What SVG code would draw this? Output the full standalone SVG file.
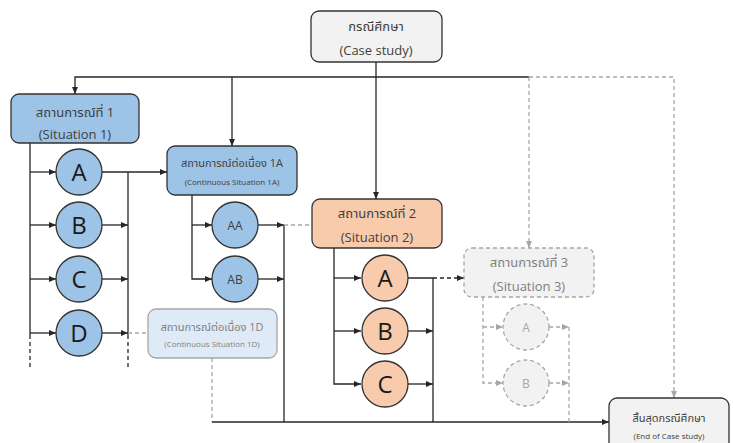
<svg xmlns="http://www.w3.org/2000/svg" width="733" height="443" viewBox="0 0 733 443">
<style>
text{font-family:"Open Sans","Noto Sans Thai","Noto Sans","Liberation Sans",sans-serif;font-weight:400;text-anchor:middle;fill:#404040}
.box{stroke:#333;stroke-width:1.3}
.blue{fill:#9dc3e6}
.orange{fill:#f8cbad}
.grey{fill:#f2f2f2}
.lblue{fill:#deebf7;stroke:#a6a6a6;stroke-width:1.3}
.g3{fill:#f2f2f2;stroke:#a6a6a6;stroke-width:1.3;stroke-dasharray:4 3}
text.gt{fill:#808080}
.ln{fill:none;stroke:#262626;stroke-width:1.3}
.dk{fill:none;stroke:#262626;stroke-width:1.3;stroke-dasharray:4 3}
.gd{fill:none;stroke:#a6a6a6;stroke-width:1.3;stroke-dasharray:4 3}
text.big{font-size:24px;fill:#1a1a1a}
.t13{font-size:13px}
</style>
<defs>
<marker id="a" markerUnits="userSpaceOnUse" markerWidth="7" markerHeight="6" refX="7" refY="3" orient="auto"><path d="M0,0L7,3L0,6z" fill="#262626"/></marker>
<marker id="ag" markerUnits="userSpaceOnUse" markerWidth="7" markerHeight="6" refX="7" refY="3" orient="auto"><path d="M0,0L7,3L0,6z" fill="#a6a6a6"/></marker>
</defs>
<g id="connectors">
<path class="ln" d="M376,62V199" marker-end="url(#a)"/>
<path class="ln" d="M529,77H75V94" marker-end="url(#a)"/>
<path class="ln" d="M232,77V146" marker-end="url(#a)"/>
<path class="gd" d="M529,77H674V398" marker-end="url(#ag)"/>
<path class="gd" d="M529,77V248" marker-end="url(#ag)"/>
<path class="ln" d="M30,143V335"/>
<path class="dk" d="M30,335V370"/>
<path class="ln" d="M30,172H56" marker-end="url(#a)"/>
<path class="ln" d="M30,225H56" marker-end="url(#a)"/>
<path class="ln" d="M30,279H56" marker-end="url(#a)"/>
<path class="ln" d="M30,333H56" marker-end="url(#a)"/>
<path class="ln" d="M102,172H167" marker-end="url(#a)"/>
<path class="ln" d="M102,225H128" marker-end="url(#a)"/>
<path class="ln" d="M102,279H128" marker-end="url(#a)"/>
<path class="ln" d="M102,333H128" marker-end="url(#a)"/>
<path class="ln" d="M128,172V335"/>
<path class="dk" d="M128,335V368"/>
<path class="gd" d="M128,333H148"/>
<path class="ln" d="M192,195V279H212" marker-end="url(#a)"/>
<path class="ln" d="M192,225H212" marker-end="url(#a)"/>
<path class="ln" d="M258,225H284" marker-end="url(#a)"/>
<path class="ln" d="M258,279H284" marker-end="url(#a)"/>
<path class="ln" d="M284,225V422"/>
<path class="gd" d="M284,225H312"/>
<path class="gd" d="M212,358V422"/>
<path class="ln" d="M212,422H609" marker-end="url(#a)"/>
<path class="ln" d="M334,248V384H361" marker-end="url(#a)"/>
<path class="ln" d="M334,278H361" marker-end="url(#a)"/>
<path class="ln" d="M334,331H361" marker-end="url(#a)"/>
<path class="ln" d="M408,278H433V422"/>
<path class="ln" d="M408,331H433" marker-end="url(#a)"/>
<path class="ln" d="M408,384H433" marker-end="url(#a)"/>
<path class="dk" d="M433,278H464" marker-end="url(#a)"/>
<path class="gd" d="M483,297V383H503" marker-end="url(#ag)"/>
<path class="gd" d="M483,327H503" marker-end="url(#ag)"/>
<path class="gd" d="M549,327H569" marker-end="url(#ag)"/>
<path class="gd" d="M549,383H569" marker-end="url(#ag)"/>
<path class="gd" d="M569,327V422"/>
</g>
<g id="case-study">
<rect class="box grey" x="311" y="11" width="131" height="51" rx="8"/>
<text class="t13" x="376" y="31">กรณีศึกษา</text>
<text class="t13" x="376" y="55">(Case study)</text>
</g>
<g id="situation1">
<rect class="box blue" x="11" y="94" width="128" height="49" rx="8"/>
<text class="t13" x="75" y="117">สถานการณ์ที่ 1</text>
<text class="t13" x="75" y="139">(Situation 1)</text>
</g>
<g id="s1-A"><circle class="box blue" cx="79" cy="172" r="23"/><text class="big" x="79" y="181">A</text></g>
<g id="s1-B"><circle class="box blue" cx="79" cy="225" r="23"/><text class="big" x="79" y="234">B</text></g>
<g id="s1-C"><circle class="box blue" cx="79" cy="279" r="23"/><text class="big" x="79" y="288">C</text></g>
<g id="s1-D"><circle class="box blue" cx="79" cy="333" r="23"/><text class="big" x="79" y="342">D</text></g>
<g id="continuous1A">
<rect class="box blue" x="167" y="146" width="130" height="49" rx="8"/>
<text x="232" y="167" font-size="11">สถานการณ์ต่อเนื่อง 1A</text>
<text x="232" y="185" font-size="8">(Continuous Situation 1A)</text>
</g>
<g id="AA"><circle class="box blue" cx="235" cy="225" r="23"/><text x="235" y="230" font-size="12">AA</text></g>
<g id="AB"><circle class="box blue" cx="235" cy="279" r="23"/><text x="235" y="284" font-size="12">AB</text></g>
<g id="continuous1D">
<rect class="lblue" x="148" y="309" width="129" height="49" rx="8"/>
<text class="gt" x="212" y="331" font-size="11">สถานการณ์ต่อเนื่อง 1D</text>
<text class="gt" x="212" y="347" font-size="8">(Continuous Situation 1D)</text>
</g>
<g id="situation2">
<rect class="box orange" x="312" y="199" width="130" height="49" rx="8"/>
<text class="t13" x="377" y="218">สถานการณ์ที่ 2</text>
<text class="t13" x="377" y="242">(Situation 2)</text>
</g>
<g id="s2-A"><circle class="box orange" cx="385" cy="278" r="23"/><text class="big" x="385" y="287">A</text></g>
<g id="s2-B"><circle class="box orange" cx="385" cy="331" r="23"/><text class="big" x="385" y="340">B</text></g>
<g id="s2-C"><circle class="box orange" cx="385" cy="384" r="23"/><text class="big" x="385" y="393">C</text></g>
<g id="situation3">
<rect class="g3" x="464" y="248" width="130" height="49" rx="8"/>
<text class="t13 gt" x="529" y="267">สถานการณ์ที่ 3</text>
<text class="t13 gt" x="529" y="291">(Situation 3)</text>
</g>
<g id="s3-A"><circle class="g3" cx="526" cy="327" r="23"/><text x="526" y="332" font-size="12" style="fill:#a6a6a6">A</text></g>
<g id="s3-B"><circle class="g3" cx="526" cy="383" r="23"/><text x="526" y="388" font-size="12" style="fill:#a6a6a6">B</text></g>
<g id="end">
<rect class="box grey" x="609" y="398" width="120" height="60" rx="8"/>
<text x="669" y="422" font-size="11">สิ้นสุดกรณีศึกษา</text>
<text x="669" y="439" font-size="8">(End of Case study)</text>
</g>
</svg>
